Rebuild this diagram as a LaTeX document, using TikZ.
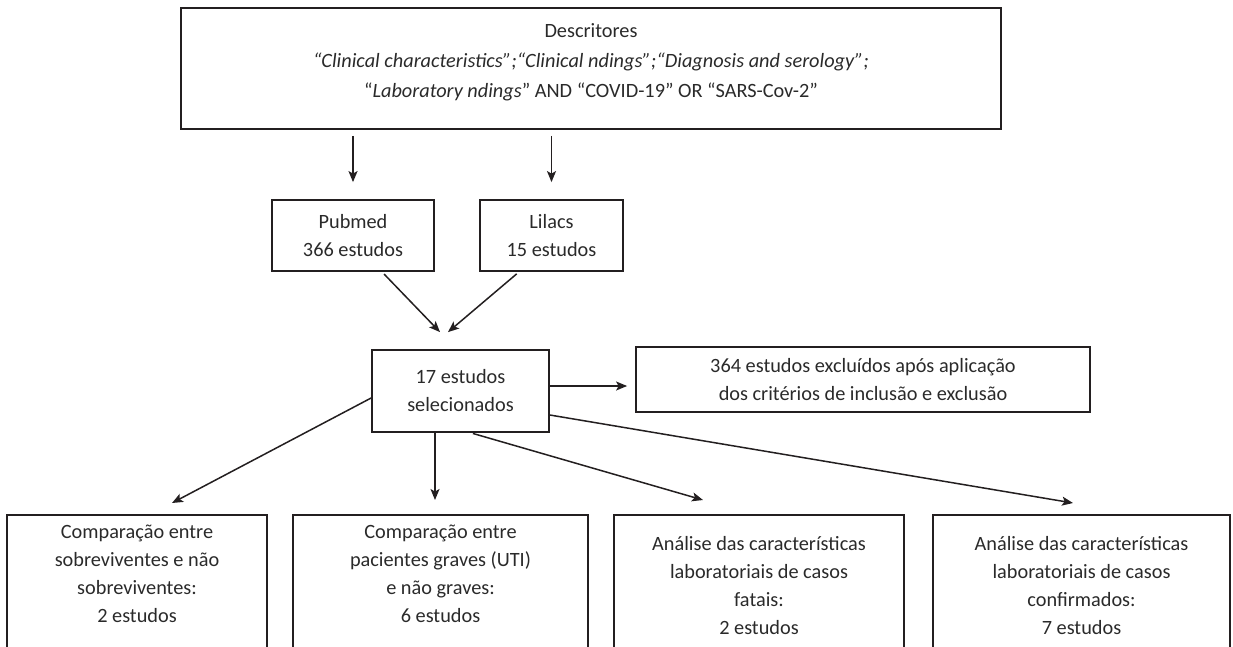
\documentclass[tikz,border=0pt]{standalone}
\usepackage{fontspec}
\setmainfont{Carlito}
\usetikzlibrary{arrows.meta}
\definecolor{ink}{HTML}{231F20}
\definecolor{txt}{HTML}{2A2A2A}
\begin{document}
\begin{tikzpicture}[x=1pt,y=-1pt,
  box/.style={draw=ink,line width=1.8pt,rectangle,inner sep=0pt,text=txt,align=center,font=\fontsize{20.3}{28}\selectfont},
  lbl/.style={inner sep=0pt,text=txt,align=center,font=\fontsize{20.3}{28}\selectfont},
  arr/.style={draw=ink,line width=1.5pt,-{Stealth[length=11pt,width=9pt,inset=2.5pt]}}]
\useasboundingbox (0,0) rectangle (1233,646);
\clip (0,0) rectangle (1233,646);

% top box
\node[box,minimum width=820pt,minimum height=121pt] (top) at (591,68.5) {};
\node[lbl,font=\fontsize{20.3}{30}\selectfont] (toptxt) at (591,62)
  {Descritores\\
   \textit{“Clinical characteristics”;“Clinical ndings”;“Diagnosis and serology”;}\\
   “\textit{Laboratory ndings}” AND “COVID-19” OR “SARS-Cov-2”};

% databases
\node[box,minimum width=162pt,minimum height=71pt] (pub) at (353,235.5) {Pubmed\\366 estudos};
\node[box,minimum width=143pt,minimum height=71pt] (lil) at (551.5,235.5) {Lilacs\\15 estudos};

% selected
\node[box,minimum width=177pt,minimum height=82pt] (sel) at (460.5,391) {17 estudos\\selecionados};
\node[box,minimum width=454pt,minimum height=65pt] (exc) at (863,379.5)
  {364 estudos excluídos após aplicação\\dos critérios de inclusão e exclusão};

% bottom boxes
\node[box,anchor=north,minimum width=260pt,minimum height=170pt] (b1) at (137,514) {};
\node[box,anchor=north,minimum width=295pt,minimum height=170pt] (b2) at (440.5,514) {};
\node[box,anchor=north,minimum width=290pt,minimum height=170pt] (b3) at (759,514) {};
\node[box,anchor=north,minimum width=297pt,minimum height=170pt] (b4) at (1081.5,514) {};
\node[lbl] (b1t) at (137,573.5) {Comparação entre\\sobreviventes e não\\sobreviventes:\\2 estudos};
\node[lbl] (b2t) at (440.5,573.5) {Comparação entre\\pacientes graves (UTI)\\e não graves:\\6 estudos};
\node[lbl] (b3t) at (759,586) {Análise das características\\laboratoriais de casos\\fatais:\\2 estudos};
\node[lbl] (b4t) at (1081.5,586) {Análise das características\\laboratoriais de casos\\confirmados:\\7 estudos};

% arrow tips
\coordinate (tpub) at ([yshift=17pt]pub.north);
\coordinate (tlil) at ([yshift=17pt]lil.north);
\coordinate (ts1) at ([xshift=-20.5pt,yshift=17pt]sel.north);
\coordinate (ts2) at ([xshift=-12.5pt,yshift=17pt]sel.north);
\coordinate (tb1) at ([xshift=35pt,yshift=11pt]b1.north);
\coordinate (tb2) at ([xshift=-5.5pt,yshift=14pt]b2.north);
\coordinate (tb3) at ([xshift=-56pt,yshift=14pt]b3.north);
\coordinate (tb4) at ([xshift=-8.5pt,yshift=11pt]b4.north);

% connectors
\draw[arr,shorten <=6pt] (top.south -| pub.north) -- (tpub);
\draw[arr,shorten <=6pt] (top.south -| lil.north) -- (tlil);
\draw[arr,shorten <=3pt] ([xshift=29pt]pub.south) -- (ts1);
\draw[arr,shorten <=3pt] ([xshift=-32.5pt]lil.south) -- (ts2);
\draw[arr,shorten >=8pt] ([yshift=5pt]sel.east) -- ([yshift=5pt]sel.east -| exc.west);
\draw[arr] ([yshift=-7pt]sel.west) -- (tb1);
\draw[arr] ([xshift=-25.5pt]sel.south) -- (tb2);
\draw[arr,shorten <=2pt] ([xshift=10.5pt]sel.south) -- (tb3);
\draw[arr] ([yshift=-24pt]sel.east) -- (tb4);
\end{tikzpicture}
\end{document}
